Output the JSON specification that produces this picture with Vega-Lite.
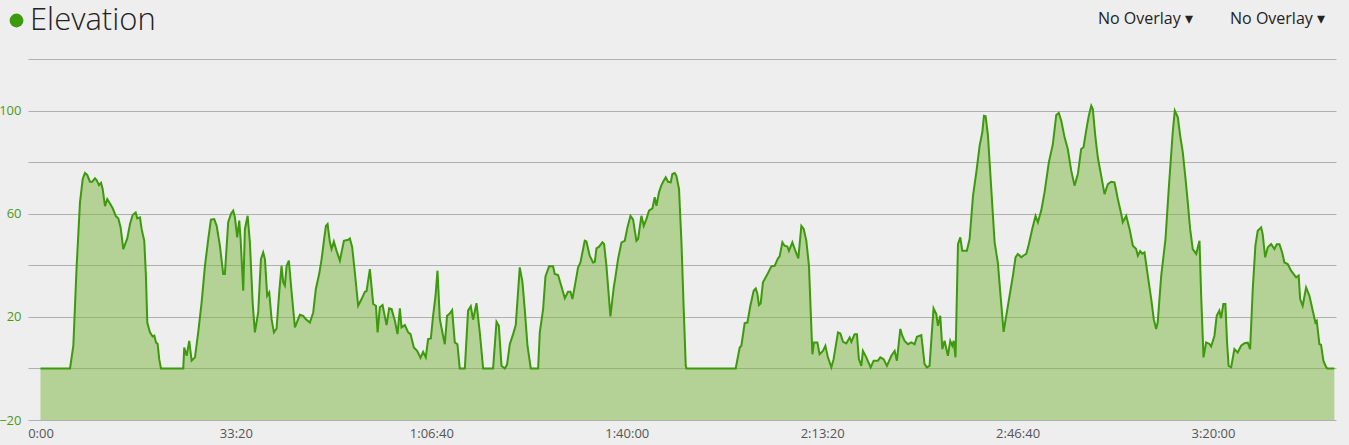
{
"$schema": "https://vega.github.io/schema/vega-lite/v6.json",
"width": 1308,
"height": 361,
"autosize": {"type": "none"},
"padding": {"left": 28, "top": 59, "right": 13, "bottom": 25},
"background": "#eeeeee",
"config": {"view": {"stroke": null}, "font": "Open Sans"},
"data": {"values": [
{"t":0,"e":0},{"t":302,"e":0},{"t":336,"e":8.8},{"t":370,"e":39.8},{"t":404,"e":64.4},{"t":432,"e":73.5},{"t":455,"e":75.8},{"t":479,"e":75},{"t":506,"e":72.4},{"t":530,"e":72.4},{"t":558,"e":73.7},{"t":575,"e":73},{"t":598,"e":71.1},{"t":619,"e":72},{"t":636,"e":69.6},{"t":660,"e":62.9},{"t":683,"e":65.7},{"t":711,"e":64},{"t":739,"e":62.1},{"t":772,"e":59},{"t":796,"e":58.2},{"t":820,"e":54.7},{"t":847,"e":46.3},{"t":888,"e":50.4},{"t":916,"e":56},{"t":943,"e":59.5},{"t":974,"e":60.5},{"t":990,"e":58.2},{"t":1018,"e":58.6},{"t":1035,"e":54},{"t":1062,"e":49.5},{"t":1079,"e":35.9},{"t":1093,"e":17.8},{"t":1120,"e":14},{"t":1148,"e":12.4},{"t":1165,"e":12.7},{"t":1182,"e":10.1},{"t":1199,"e":9.5},{"t":1215,"e":3.6},{"t":1233,"e":0},
{"t":1461,"e":0},{"t":1471,"e":8.1},{"t":1496,"e":4.9},{"t":1522,"e":10.7},{"t":1547,"e":3},{"t":1581,"e":4.3},{"t":1614,"e":14},{"t":1649,"e":25.6},{"t":1683,"e":39.8},{"t":1717,"e":50.2},{"t":1744,"e":57.7},{"t":1778,"e":57.9},{"t":1803,"e":55.3},{"t":1836,"e":47.6},{"t":1870,"e":36.6},{"t":1887,"e":36.6},{"t":1921,"e":56.7},{"t":1949,"e":59.9},{"t":1972,"e":61.2},{"t":1990,"e":58.6},{"t":2013,"e":50.8},{"t":2034,"e":57.3},{"t":2048,"e":50.2},{"t":2075,"e":30.1},{"t":2092,"e":54.1},{"t":2120,"e":59.2},{"t":2143,"e":48.9},{"t":2171,"e":25.6},{"t":2194,"e":14},{"t":2228,"e":21.7},{"t":2256,"e":42.4},{"t":2279,"e":45},{"t":2297,"e":42.4},{"t":2320,"e":28.2},{"t":2341,"e":29.5},{"t":2365,"e":19.1},{"t":2389,"e":14},{"t":2416,"e":15.5},{"t":2443,"e":29.5},{"t":2467,"e":39.8},{"t":2484,"e":33.4},{"t":2501,"e":32.1},{"t":2519,"e":39.8},{"t":2542,"e":41.8},{"t":2570,"e":29.5},{"t":2604,"e":15.9},{"t":2631,"e":18.5},{"t":2655,"e":20.8},{"t":2688,"e":20.4},{"t":2716,"e":19.1},{"t":2757,"e":17.8},{"t":2791,"e":21.7},{"t":2818,"e":30.8},{"t":2852,"e":36.6},{"t":2877,"e":42.4},{"t":2903,"e":50.2},{"t":2921,"e":55.3},{"t":2938,"e":56},{"t":2962,"e":48.9},{"t":2979,"e":46.3},{"t":3002,"e":49.2},{"t":3030,"e":45.6},{"t":3064,"e":41.8},{"t":3105,"e":49.5},{"t":3149,"e":49.9},{"t":3166,"e":50.4},{"t":3190,"e":47},{"t":3217,"e":37.3},{"t":3251,"e":24.3},{"t":3286,"e":26.9},{"t":3320,"e":29.7},{"t":3337,"e":30},{"t":3371,"e":38.5},{"t":3405,"e":25},{"t":3433,"e":24.3},{"t":3450,"e":14},{"t":3473,"e":23.7},{"t":3501,"e":24.6},{"t":3542,"e":16.8},{"t":3568,"e":23.3},{"t":3593,"e":23},{"t":3627,"e":18.5},{"t":3654,"e":13.3},{"t":3678,"e":23.3},{"t":3695,"e":15.9},{"t":3729,"e":16.8},{"t":3763,"e":14},{"t":3787,"e":13.3},{"t":3821,"e":8.1},{"t":3855,"e":6.8},{"t":3889,"e":4.1},{"t":3916,"e":6.4},{"t":3943,"e":4.3},{"t":3967,"e":11.4},{"t":3995,"e":11.6},{"t":4018,"e":20.4},{"t":4043,"e":28.2},{"t":4063,"e":37.9},{"t":4087,"e":19.1},{"t":4110,"e":14.6},{"t":4138,"e":9.4},{"t":4161,"e":20.4},{"t":4189,"e":21.3},{"t":4213,"e":22.6},{"t":4240,"e":10.1},{"t":4267,"e":9.4},{"t":4291,"e":0},{"t":4343,"e":0},{"t":4376,"e":22.4},{"t":4404,"e":24.1},{"t":4427,"e":18.9},{"t":4462,"e":25.3},{"t":4496,"e":14},{"t":4530,"e":0},{"t":4632,"e":0},{"t":4667,"e":18.1},{"t":4691,"e":16.5},{"t":4718,"e":1},{"t":4752,"e":0},{"t":4775,"e":1.5},{"t":4803,"e":9.4},{"t":4837,"e":13.3},{"t":4864,"e":16.8},{"t":4905,"e":39.2},{"t":4933,"e":33.4},{"t":4956,"e":23},{"t":4984,"e":8.8},{"t":5018,"e":0},{"t":5093,"e":0},{"t":5110,"e":14},{"t":5144,"e":23},{"t":5168,"e":35.7},{"t":5205,"e":39.6},{"t":5246,"e":39.6},{"t":5263,"e":36.6},{"t":5297,"e":36.2},{"t":5332,"e":31.8},{"t":5366,"e":27.2},{"t":5399,"e":29.7},{"t":5424,"e":29.7},{"t":5444,"e":26.9},{"t":5475,"e":33.4},{"t":5502,"e":39.2},{"t":5526,"e":41.1},{"t":5570,"e":49.5},{"t":5587,"e":49.2},{"t":5621,"e":43.7},{"t":5655,"e":41.1},{"t":5673,"e":41.3},{"t":5690,"e":46.6},{"t":5717,"e":47.2},{"t":5751,"e":48.9},{"t":5768,"e":48.3},{"t":5792,"e":39.8},{"t":5833,"e":20.2},{"t":5867,"e":31.4},{"t":5887,"e":36.2},{"t":5911,"e":42.4},{"t":5946,"e":48.9},{"t":5980,"e":49.5},{"t":6007,"e":54.7},{"t":6038,"e":59.2},{"t":6065,"e":57.7},{"t":6099,"e":49.5},{"t":6116,"e":50.2},{"t":6150,"e":59.2},{"t":6174,"e":55.3},{"t":6201,"e":57.9},{"t":6228,"e":61.2},{"t":6263,"e":62.1},{"t":6286,"e":66.4},{"t":6304,"e":63.1},{"t":6330,"e":68.3},{"t":6355,"e":71.1},{"t":6378,"e":72.8},{"t":6399,"e":74.1},{"t":6423,"e":72.4},{"t":6450,"e":72.2},{"t":6467,"e":75.4},{"t":6491,"e":75.8},{"t":6508,"e":74.7},{"t":6535,"e":69.6},{"t":6560,"e":48.9},{"t":6583,"e":23},{"t":6604,"e":1},{"t":6611,"e":0},
{"t":7115,"e":0},{"t":7156,"e":8.1},{"t":7173,"e":8.8},{"t":7207,"e":17.6},{"t":7235,"e":17.8},{"t":7265,"e":24.3},{"t":7299,"e":30.1},{"t":7320,"e":31},{"t":7337,"e":29},{"t":7353,"e":24.6},{"t":7371,"e":25.3},{"t":7394,"e":33.4},{"t":7435,"e":36.2},{"t":7480,"e":39.6},{"t":7514,"e":39.8},{"t":7548,"e":42.7},{"t":7565,"e":43.5},{"t":7593,"e":48.9},{"t":7616,"e":47.6},{"t":7644,"e":47.3},{"t":7660,"e":45.6},{"t":7695,"e":48.9},{"t":7726,"e":45.6},{"t":7756,"e":42.7},{"t":7787,"e":55.3},{"t":7811,"e":54.1},{"t":7838,"e":49.5},{"t":7865,"e":39.8},{"t":7882,"e":23},{"t":7900,"e":5.5},{"t":7916,"e":10.1},{"t":7951,"e":10.1},{"t":7974,"e":5.5},{"t":8008,"e":6.8},{"t":8033,"e":8.8},{"t":8059,"e":4.3},{"t":8094,"e":0.4},{"t":8117,"e":3.6},{"t":8162,"e":14},{"t":8186,"e":13.6},{"t":8213,"e":10.3},{"t":8247,"e":9.7},{"t":8281,"e":12},{"t":8299,"e":10.3},{"t":8332,"e":13.3},{"t":8356,"e":13.3},{"t":8376,"e":3.6},{"t":8401,"e":1},{"t":8417,"e":6.8},{"t":8452,"e":4.3},{"t":8496,"e":0.4},{"t":8527,"e":3},{"t":8571,"e":3},{"t":8595,"e":4.3},{"t":8629,"e":3.6},{"t":8663,"e":1},{"t":8708,"e":4.9},{"t":8742,"e":6.8},{"t":8765,"e":3},{"t":8800,"e":15.3},{"t":8820,"e":12.7},{"t":8844,"e":10.7},{"t":8878,"e":9.4},{"t":8912,"e":10.1},{"t":8946,"e":9.4},{"t":8970,"e":12.3},{"t":9015,"e":12.9},{"t":9048,"e":1.7},{"t":9072,"e":0.4},{"t":9099,"e":1},{"t":9140,"e":23.3},{"t":9168,"e":21.1},{"t":9185,"e":16.5},{"t":9209,"e":20.4},{"t":9230,"e":7.5},{"t":9253,"e":10.7},{"t":9287,"e":4.9},{"t":9311,"e":10.7},{"t":9332,"e":8.8},{"t":9346,"e":10.7},{"t":9365,"e":4.3},{"t":9390,"e":48.2},{"t":9414,"e":50.8},{"t":9434,"e":45.6},{"t":9481,"e":45.6},{"t":9509,"e":50.2},{"t":9544,"e":67},{"t":9578,"e":76.1},{"t":9612,"e":86.4},{"t":9639,"e":91.6},{"t":9656,"e":98},{"t":9673,"e":97.8},{"t":9697,"e":90.3},{"t":9731,"e":69.6},{"t":9765,"e":48.9},{"t":9798,"e":41.1},{"t":9823,"e":29.5},{"t":9857,"e":14.2},{"t":9884,"e":20.4},{"t":9918,"e":28.2},{"t":9952,"e":35.9},{"t":9979,"e":43.1},{"t":10003,"e":44.4},{"t":10038,"e":43.1},{"t":10065,"e":43.9},{"t":10089,"e":44.4},{"t":10115,"e":48.2},{"t":10150,"e":54.1},{"t":10184,"e":59.2},{"t":10208,"e":56.7},{"t":10242,"e":61.2},{"t":10276,"e":68.3},{"t":10320,"e":79.9},{"t":10361,"e":87},{"t":10396,"e":98.3},{"t":10422,"e":99.1},{"t":10447,"e":96.1},{"t":10481,"e":89.6},{"t":10514,"e":85.1},{"t":10549,"e":76.7},{"t":10583,"e":70.9},{"t":10617,"e":75.4},{"t":10651,"e":85.1},{"t":10675,"e":85.8},{"t":10702,"e":92.2},{"t":10729,"e":98},{"t":10754,"e":101.9},{"t":10770,"e":100.6},{"t":10795,"e":90.3},{"t":10821,"e":81.9},{"t":10856,"e":74.7},{"t":10890,"e":67.6},{"t":10924,"e":71.5},{"t":10958,"e":72.4},{"t":10992,"e":72.2},{"t":11026,"e":65.7},{"t":11061,"e":59.9},{"t":11077,"e":56.7},{"t":11112,"e":59.2},{"t":11146,"e":54.1},{"t":11180,"e":47.6},{"t":11214,"e":46.3},{"t":11231,"e":43.7},{"t":11255,"e":45.5},{"t":11276,"e":44.5},{"t":11299,"e":45},{"t":11333,"e":35.9},{"t":11368,"e":26.9},{"t":11394,"e":19.1},{"t":11418,"e":15.3},{"t":11434,"e":17.8},{"t":11470,"e":35.9},{"t":11514,"e":50.2},{"t":11547,"e":69.6},{"t":11588,"e":91.6},{"t":11609,"e":100},{"t":11640,"e":97.4},{"t":11664,"e":90.3},{"t":11691,"e":83.8},{"t":11719,"e":73.5},{"t":11742,"e":64.4},{"t":11766,"e":54.1},{"t":11793,"e":46.3},{"t":11828,"e":44.4},{"t":11862,"e":49.5},{"t":11879,"e":28.2},{"t":11903,"e":4.3},{"t":11930,"e":10.1},{"t":11964,"e":9.5},{"t":11981,"e":8.5},{"t":12015,"e":12.7},{"t":12038,"e":20.4},{"t":12065,"e":22.4},{"t":12083,"e":19.5},{"t":12106,"e":25},{"t":12127,"e":25},{"t":12144,"e":10.1},{"t":12160,"e":1},{"t":12186,"e":0.5},{"t":12219,"e":7.5},{"t":12253,"e":6.2},{"t":12288,"e":8.8},{"t":12322,"e":9.8},{"t":12356,"e":10},{"t":12380,"e":7.5},{"t":12407,"e":30.8},{"t":12434,"e":47.6},{"t":12458,"e":53.4},{"t":12493,"e":54.7},{"t":12509,"e":52},{"t":12534,"e":43.1},{"t":12561,"e":47},{"t":12595,"e":48.2},{"t":12629,"e":46.3},{"t":12653,"e":48.2},{"t":12680,"e":48.2},{"t":12708,"e":45},{"t":12731,"e":41.1},{"t":12765,"e":40.5},{"t":12799,"e":37.9},{"t":12851,"e":35.3},{"t":12877,"e":36},{"t":12892,"e":26.9},{"t":12918,"e":24.3},{"t":12953,"e":31.4},{"t":12987,"e":28.2},{"t":13021,"e":22.4},{"t":13048,"e":17.8},{"t":13062,"e":18.5},{"t":13089,"e":9.4},{"t":13106,"e":9.2},{"t":13130,"e":3},{"t":13157,"e":0.6},{"t":13170,"e":0},{"t":13242,"e":0}
]},
"layer": [
{
"mark": {"type": "area", "fill": "#7ab43e", "fillOpacity": 0.5, "strokeWidth": 0},
"encoding": {
"x": {"field": "t", "type": "quantitative", "scale": {"domain": [-128, 13259], "nice": false, "zero": false},
"axis": {"orient": "bottom", "values": [0, 2000, 4000, 6000, 8000, 10000, 12000], "labelExpr": "datum.value >= 3600 ? floor(datum.value/3600) + ':' + pad(floor((datum.value%3600)/60)+'', 2, '0', 'left') + ':' + pad((datum.value%60)+'', 2, '0', 'left') : floor(datum.value/60) + ':' + pad((datum.value%60)+'', 2, '0', 'left')", "grid": false, "ticks": false, "domain": false, "labelColor": "#555555", "labelFontSize": 13, "labelPadding": 7, "labelFlush": false, "labelOverlap": false, "title": null}},
"y": {"field": "e", "type": "quantitative", "scale": {"domain": [-20, 120], "nice": false, "zero": false},
"axis": {"values": [-20, 0, 20, 40, 60, 80, 100, 120], "labelExpr": "(datum.value == -20 || datum.value == 20 || datum.value == 60 || datum.value == 100) ? datum.label : ''", "grid": true, "gridColor": "#b0b0b0", "gridWidth": 1, "ticks": false, "domain": false, "labelColor": "#4d9a12", "labelFontSize": 13, "labelPadding": 7, "title": null}},
"y2": {"datum": -20}
}
},
{
"mark": {"type": "line", "strokeWidth": 2, "interpolate": "linear"},
"encoding": {
"x": {"field": "t", "type": "quantitative",
"axis": {"orient": "top", "values": [11304, 12655], "labelExpr": "'No Overlay ▾'", "grid": false, "ticks": false, "domain": false, "labelColor": "#222222", "labelFontSize": 16, "labelBaseline": "alphabetic", "labelPadding": 36, "labelFlush": false, "labelOverlap": false, "title": null}},
"y": {"field": "e", "type": "quantitative"},
"color": {"datum": "Elevation", "scale": {"range": ["#3c9a0c"]},
"legend": {"orient": "none", "legendX": -27, "legendY": -54, "title": null, "symbolType": "circle", "symbolSize": 190, "symbolFillColor": "#3c9a0c", "symbolStrokeColor": "#3c9a0c", "symbolStrokeWidth": 0, "symbolOpacity": 1, "labelFontSize": 31, "labelLimit": 400, "labelColor": "#222222", "labelFont": "Open Sans", "labelFontWeight": 300, "labelOffset": -2, "padding": 0}}
}
}
],
"resolve": {"axis": {"x": "independent"}}
}
